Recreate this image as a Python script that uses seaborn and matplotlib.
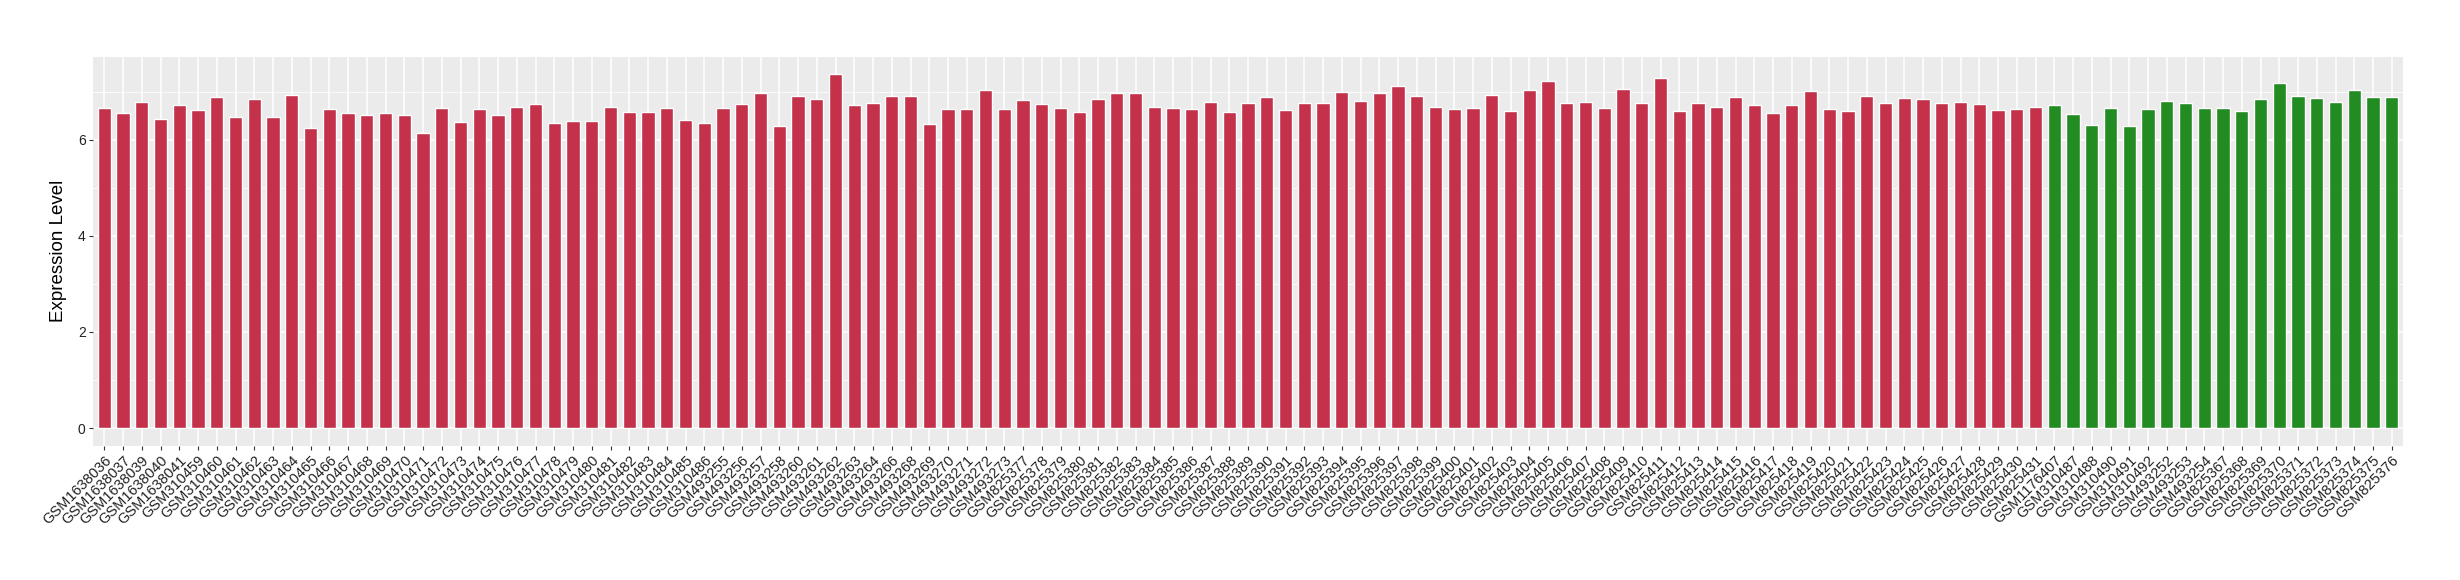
import matplotlib
matplotlib.use("Agg")
import matplotlib.pyplot as plt
import seaborn as sns
import pandas as pd
from matplotlib.ticker import FixedLocator

samples_red = (
    ["GSM1638036", "GSM1638037", "GSM1638039", "GSM1638040", "GSM1638041"]
    + ["GSM3104%02d" % i for i in range(59, 87)]
    + ["GSM493255", "GSM493256", "GSM493257", "GSM493258", "GSM493260", "GSM493261",
       "GSM493262", "GSM493263", "GSM493264", "GSM493266", "GSM493268", "GSM493269",
       "GSM493270", "GSM493271", "GSM493272", "GSM493273"]
    + ["GSM825%d" % i for i in range(377, 432)]
)
samples_green = (
    ["GSM1176407", "GSM310487", "GSM310488", "GSM310490", "GSM310491", "GSM310492",
     "GSM493252", "GSM493253", "GSM493254"]
    + ["GSM825%d" % i for i in range(367, 377)]
)

values_red = [
    6.65, 6.55, 6.78, 6.44, 6.72, 6.61, 6.88, 6.47, 6.84, 6.47,
    6.94, 6.24, 6.63, 6.55, 6.51, 6.55, 6.51, 6.15, 6.67, 6.36,
    6.63, 6.51, 6.69, 6.74, 6.34, 6.38, 6.38, 6.69, 6.57, 6.57,
    6.65, 6.42, 6.34, 6.67, 6.74, 6.97, 6.28, 6.90, 6.84, 7.36,
    6.72, 6.76, 6.90, 6.90, 6.32, 6.63, 6.63, 7.03, 6.63, 6.82,
    6.74, 6.67, 6.57, 6.84, 6.97, 6.97, 6.69, 6.65, 6.63, 6.78,
    6.57, 6.76, 6.88, 6.61, 6.76, 6.76, 6.99, 6.80, 6.97, 7.11,
    6.90, 6.69, 6.63, 6.67, 6.94, 6.59, 7.03, 7.22, 6.76, 6.78,
    6.67, 7.05, 6.76, 7.28, 6.59, 6.76, 6.69, 6.88, 6.72, 6.55,
    6.72, 7.01, 6.63, 6.59, 6.90, 6.76, 6.86, 6.84, 6.76, 6.78,
    6.74, 6.61, 6.63, 6.69,
]
values_green = [
    6.72, 6.53, 6.30, 6.67, 6.28, 6.63, 6.80, 6.76, 6.67, 6.65,
    6.59, 6.84, 7.19, 6.90, 6.86, 6.78, 7.03, 6.88, 6.88,
]

groups = ["Tumor", "Normal"]
colors = {"Tumor": "#C3314A", "Normal": "#228B22"}

df = pd.DataFrame({
    "sample": samples_red + samples_green,
    "value": values_red + values_green,
    "group": [groups[0]] * len(samples_red) + [groups[1]] * len(samples_green),
})

sns.set_theme(style="darkgrid", rc={
    "axes.facecolor": "#EBEBEB",
    "grid.color": "white",
    "axes.edgecolor": "#EBEBEB",
})
plt.rcParams["font.family"] = ["Liberation Sans", "DejaVu Sans"]

fig = plt.figure(figsize=(24.6, 5.8), dpi=100)
ax = fig.add_axes([93 / 2460, 1 - 445.7 / 580, (2403 - 93) / 2460, (445.7 - 56.7) / 580])

sns.barplot(data=df, x="sample", y="value", hue="group", palette=colors,
            order=list(df["sample"]), dodge=False, width=0.7, legend=False,
            saturation=1, ax=ax)

n = len(df)
ax.set_xlim(-0.6, n - 1 + 0.6)
ax.set_ylim(-0.368, 7.728)
ax.set_yticks([0, 2, 4, 6])
ax.yaxis.set_minor_locator(FixedLocator([1, 3, 5, 7]))
ax.grid(True, which="major", color="white", linewidth=1.1)
ax.grid(True, which="minor", axis="y", color="white", linewidth=0.55)
ax.set_axisbelow(True)
for s in ax.spines.values():
    s.set_visible(False)

ax.tick_params(axis="both", which="major", length=2.8, width=0.8, color="#333333",
               labelcolor="#222222", bottom=True, left=True, pad=2.5)
ax.tick_params(axis="y", labelsize=10)
ax.tick_params(axis="y", which="minor", length=0)
ax.set_xticks(range(n))
ax.set_xticklabels(df["sample"], rotation=45, ha="right", rotation_mode="anchor",
                   fontsize=10.5)
ax.set_xlabel("")
ax.set_ylabel("Expression Level", fontsize=13.5, color="black", labelpad=8)

fig.savefig("out.png", dpi=100)
